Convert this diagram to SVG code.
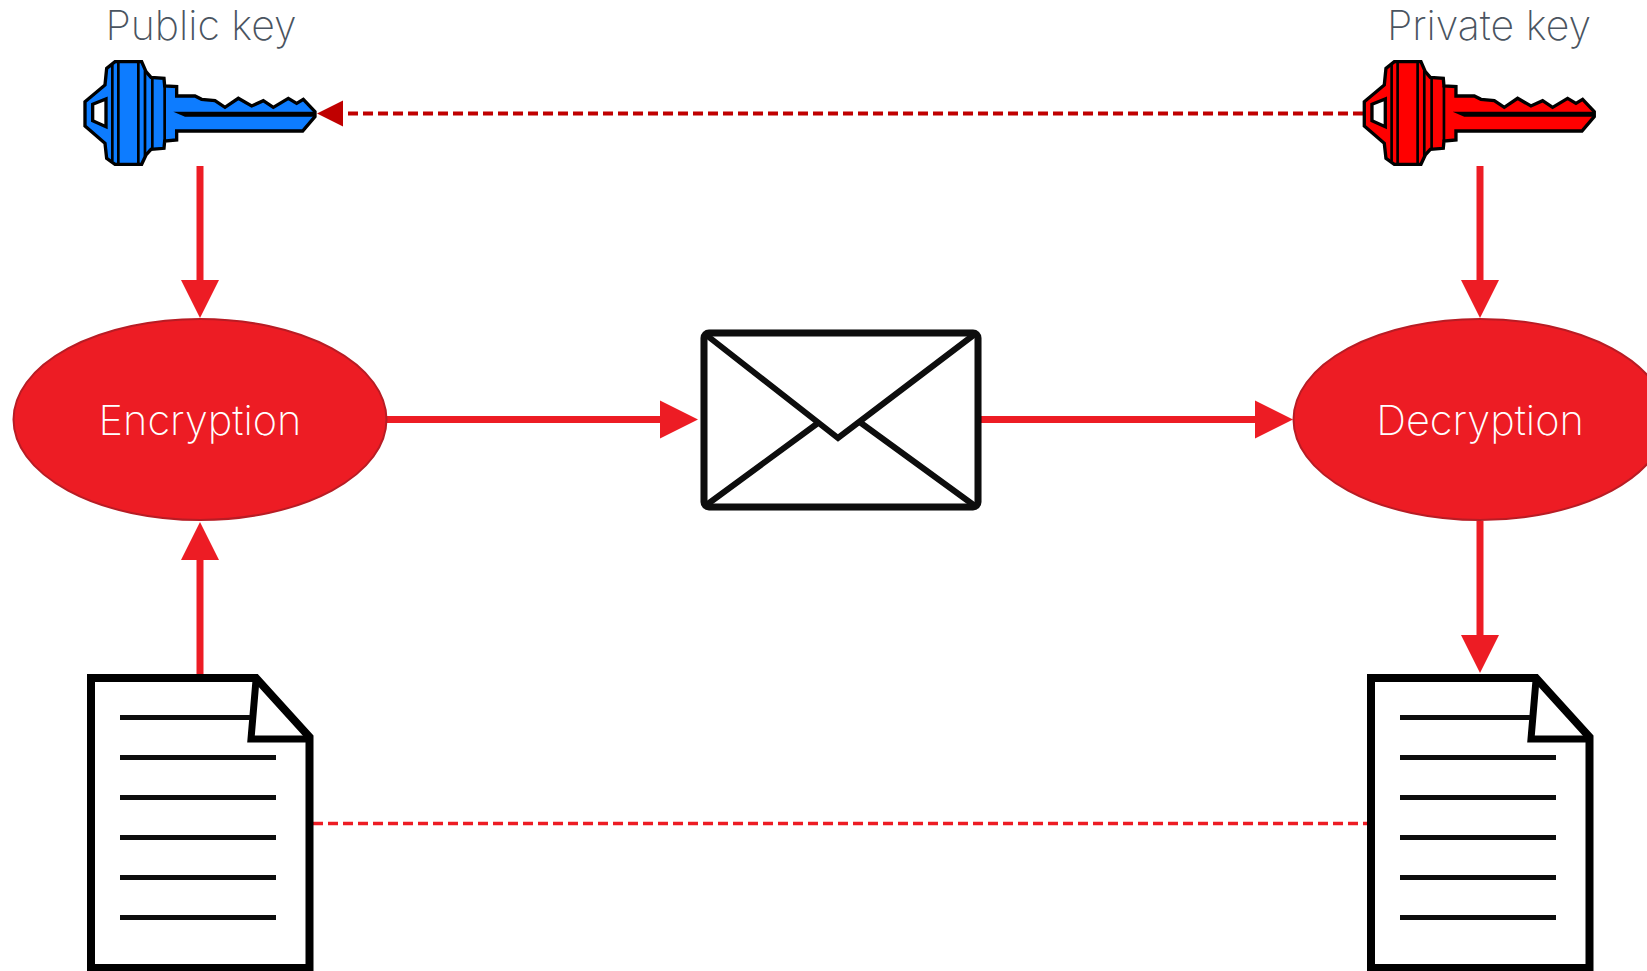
<svg xmlns="http://www.w3.org/2000/svg" xmlns:xlink="http://www.w3.org/1999/xlink" width="1647" height="971" viewBox="0 0 1647 971">
<style>
text{font-family:Inter,"Liberation Sans",sans-serif;font-weight:200;font-size:41.500px;text-anchor:middle}
.lbl{fill:#4a5460;font-size:41px}
.in{fill:#fff}
.solid{stroke:#ed1c24;stroke-width:7;fill:none}
.ln{stroke:#111;stroke-width:5;fill:none}
.e{fill:#ed1c24;stroke:#b81c24;stroke-width:2}
.ev{fill:none;stroke:#0a0a0a;stroke-width:6}
</style>
<defs>
<filter id="soft" x="-5%" y="-5%" width="110%" height="110%"><feGaussianBlur stdDeviation="0.6"/></filter>
<marker id="big" markerUnits="userSpaceOnUse" markerWidth="40" markerHeight="40" refX="0" refY="20" orient="auto"><path d="M0 1L38 20L0 39Z" fill="#ed1c24"/></marker>
<marker id="dk" markerUnits="userSpaceOnUse" markerWidth="28" markerHeight="28" refX="0" refY="14" orient="auto"><path d="M0 1L26 14L0 27Z" fill="#c00000"/></marker>
<g id="key">
<path d="M45 305L105 255L110 205L135 185L215 185L228 215L243 232L282 235L284 258L320 260L320 288L375 288L395 298L435 302L465 322L505 295L545 318L580 302L610 322L655 295L680 310L700 298L735 335L735 350L698 393L320 393L320 420L284 423L282 445L243 448L228 465L215 493L135 493L110 475L105 430L45 378Z" stroke="#000" stroke-width="10"/>
<path d="M68 313L108 297L108 380L68 362Z" fill="#fff" stroke="#000" stroke-width="10"/>
<path d="M127 195V483M145 188V490M205 188V490M225 212V468M247 235V445M284 258V423" stroke="#000" stroke-width="8" fill="none"/>
<path d="M310 335L345 335L735 335V350H345Z" fill="#000"/>
</g>
<g id="doc">
<path d="M91 678H256L309.500 737V968H91Z" fill="#fff" stroke="#000" stroke-width="8"/>
<path d="M256 680L251 739H309" fill="none" stroke="#000" stroke-width="7"/>
<path class="ln" d="M120 717.500H250M120 757.500H276M120 797.500H276M120 837.500H276M120 877.500H276M120 917.500H276"/>
</g>
</defs>
<g id="connectors">
<path class="solid" d="M200 166V280" marker-end="url(#big)"/>
<path class="solid" d="M1480 166V280" marker-end="url(#big)"/>
<path class="solid" d="M387 419.500H660" marker-end="url(#big)"/>
<path class="solid" d="M980 419.500H1255" marker-end="url(#big)"/>
<path class="solid" d="M200 675V560" marker-end="url(#big)"/>
<path class="solid" d="M1480 521V635" marker-end="url(#big)"/>
<path d="M1363 113.500H343" fill="none" stroke="#c00000" stroke-width="4" stroke-dasharray="10 5" marker-end="url(#dk)"/>
<path d="M313 823.500H1367" fill="none" stroke="#ed1c24" stroke-width="3.500" stroke-dasharray="10 5"/>
</g>
<g id="public-key"><text class="lbl" x="201" y="40">Public key</text><use xlink:href="#key" transform="translate(70 0) scale(.3333)" fill="#0a7cff" filter="url(#soft)"/></g>
<g id="private-key"><text class="lbl" x="1489" y="40">Private key</text><use xlink:href="#key" transform="translate(1349.300 0) scale(.3333)" fill="#ff0000" filter="url(#soft)"/></g>
<g id="encryption"><ellipse class="e" cx="200" cy="419.500" rx="186.500" ry="100.500"/><text class="in" x="200" y="435">Encryption</text></g>
<g id="decryption"><ellipse class="e" cx="1480" cy="419.500" rx="186.500" ry="100.500"/><text class="in" x="1480" y="435">Decryption</text></g>
<g id="envelope" filter="url(#soft)"><rect x="704" y="333" width="274" height="174" rx="5" fill="#fff" stroke="#0a0a0a" stroke-width="7"/>
<path class="ev" d="M705 334L838 438L975 334M818 423L705 506M861 423L975 506"/></g>
<g id="plaintext" filter="url(#soft)"><use xlink:href="#doc"/></g>
<g id="decrypted-text" filter="url(#soft)"><use xlink:href="#doc" transform="translate(1280 0)"/></g>
</svg>
